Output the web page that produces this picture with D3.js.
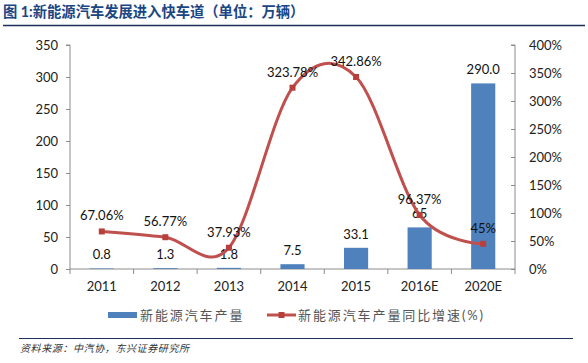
<!DOCTYPE html>
<html>
<head>
<meta charset="utf-8">
<script src="https://cdn.jsdelivr.net/npm/d3@7"></script>
<style>
  body { margin: 0; background: #fff; }
  svg text { font-family: Lato, "Noto Sans CJK SC", sans-serif; }
</style>
</head>
<body>
<div id="chart-area"></div>
<script>
// data
const years = ["2011", "2012", "2013", "2014", "2015", "2016E", "2020E"];
const output = [0.8, 1.3, 1.8, 7.5, 33.1, 65, 290.0];
const outputLabels = ["0.8", "1.3", "1.8", "7.5", "33.1", "65", "290.0"];
const growth = [67.06, 56.77, 37.93, 323.78, 342.86, 96.37, 45];
const growthLabels = ["67.06%", "56.77%", "37.93%", "323.78%", "342.86%", "96.37%", "45%"];
const leftTicks = [0, 50, 100, 150, 200, 250, 300, 350];
const rightTicks = [0, 50, 100, 150, 200, 250, 300, 350, 400];

const W = 588, H = 363;
const MARGIN = { LEFT: 70, RIGHT: 73, TOP: 45, BOTTOM: 94 };
const WIDTH = W - MARGIN.LEFT - MARGIN.RIGHT;
const HEIGHT = H - MARGIN.TOP - MARGIN.BOTTOM;

const svg = d3.select("#chart-area").append("svg")
  .attr("width", W)
  .attr("height", H);

// title + rules
svg.append("text")
  .attr("x", 3).attr("y", 17)
  .attr("font-family", "'Noto Sans CJK SC'")
  .attr("font-size", "14.3px")
  .attr("font-weight", "700")
  .attr("fill", "#1A4684")
  .text("图 1:新能源汽车发展进入快车道（单位：万辆）");
svg.append("line")
  .attr("x1", 3).attr("x2", 585).attr("y1", 25.5).attr("y2", 25.5)
  .attr("stroke", "#1b2f5a").attr("stroke-width", 1.5);
svg.append("line")
  .attr("x1", 19).attr("x2", 573).attr("y1", 338.5).attr("y2", 338.5)
  .attr("stroke", "#1b2f5a").attr("stroke-width", 1.2);
svg.append("text")
  .attr("x", 20).attr("y", 352)
  .attr("font-family", "'Noto Sans CJK SC'")
  .attr("font-size", "10px")
  .attr("font-style", "italic")
  .attr("letter-spacing", "0.6px")
  .attr("fill", "#333")
  .text("资料来源：中汽协，东兴证券研究所");

const g = svg.append("g")
  .attr("transform", `translate(${MARGIN.LEFT}, ${MARGIN.TOP})`);

// scales
const x = d3.scaleBand()
  .domain(years)
  .range([0, WIDTH])
  .paddingInner(0.62)
  .paddingOuter(0.31);
const xc = d => x(d) + x.bandwidth() / 2;
const y = d3.scaleLinear().domain([0, 350]).range([HEIGHT, 0]);
const y2 = d3.scaleLinear().domain([0, 400]).range([HEIGHT, 0]);

const axisColor = "#8c8c8c";

// left axis
const yAxis = g.append("g")
  .call(d3.axisLeft(y).tickValues(leftTicks).tickSize(4).tickPadding(8));
// right axis
const y2Axis = g.append("g")
  .attr("transform", `translate(${WIDTH}, 0)`)
  .call(d3.axisRight(y2).tickValues(rightTicks).tickSize(4).tickPadding(10)
    .tickFormat(d => d + "%"));
y2Axis.selectAll(".tick line").attr("x1", -4).attr("x2", 0);

// bottom axis: ticks at band boundaries
const step = x.step();
const xAxis = g.append("g")
  .attr("transform", `translate(0, ${HEIGHT})`)
  .call(d3.axisBottom(x).tickSize(0).tickPadding(13));
xAxis.selectAll(".domain").remove();
xAxis.append("line")
  .attr("x1", 0).attr("x2", WIDTH).attr("stroke", axisColor);
xAxis.selectAll(".tick").append("line")
  .attr("x1", -step / 2).attr("x2", -step / 2)
  .attr("y1", 0).attr("y2", 5)
  .attr("stroke", axisColor);
xAxis.append("line")
  .attr("x1", WIDTH).attr("x2", WIDTH).attr("y1", 0).attr("y2", 5)
  .attr("stroke", axisColor);

[yAxis, y2Axis, xAxis].forEach(a => {
  a.selectAll("path.domain").attr("stroke", axisColor);
  a.selectAll(".tick line").attr("stroke", axisColor);
  a.selectAll("text")
    .attr("font-family", "Lato")
    .attr("font-size", "13px")
    .attr("fill", "#222");
});
yAxis.selectAll(".domain").attr("d", `M-4,0H0V${HEIGHT}`);
y2Axis.selectAll(".domain").attr("d", `M-4,0H0V${HEIGHT}`);

// bars
g.selectAll("rect.bar").data(output).enter().append("rect")
  .attr("class", "bar")
  .attr("x", (d, i) => x(years[i]))
  .attr("y", d => y(d))
  .attr("width", x.bandwidth())
  .attr("height", d => HEIGHT - y(d))
  .attr("fill", "#4F81BD");

g.selectAll("text.barlab").data(output).enter().append("text")
  .attr("class", "barlab")
  .attr("x", (d, i) => xc(years[i]))
  .attr("y", d => y(d) - 9)
  .attr("text-anchor", "middle")
  .attr("font-size", "13px")
  .attr("fill", "#111")
  .text((d, i) => outputLabels[i]);

// growth line
const line = d3.line()
  .x((d, i) => xc(years[i]))
  .y(d => y2(d))
  .curve(d3.curveCardinal.tension(0));
g.append("path")
  .datum(growth)
  .attr("d", line)
  .attr("fill", "none")
  .attr("stroke", "#C0504D")
  .attr("stroke-width", 3);

g.selectAll("rect.mk").data(growth).enter().append("rect")
  .attr("class", "mk")
  .attr("x", (d, i) => xc(years[i]) - 3)
  .attr("y", d => y2(d) - 3)
  .attr("width", 6).attr("height", 6)
  .attr("fill", "#B8403C");

g.selectAll("text.linelab").data(growth).enter().append("text")
  .attr("class", "linelab")
  .attr("x", (d, i) => xc(years[i]))
  .attr("y", d => y2(d) - 11)
  .attr("text-anchor", "middle")
  .attr("font-size", "13px")
  .attr("fill", "#111")
  .text((d, i) => growthLabels[i]);

// legend
const lg = svg.append("g").attr("transform", "translate(0, 315)");
lg.append("rect")
  .attr("x", 108).attr("y", -3).attr("width", 29).attr("height", 6)
  .attr("fill", "#4F81BD");
lg.append("text")
  .attr("x", 140).attr("y", 5)
  .attr("font-family", "'Noto Sans CJK SC'")
  .attr("font-size", "13px")
  .attr("letter-spacing", "1.9px")
  .attr("fill", "#555")
  .text("新能源汽车产量");
lg.append("line")
  .attr("x1", 267).attr("x2", 296).attr("y1", 0).attr("y2", 0)
  .attr("stroke", "#C0504D").attr("stroke-width", 3);
lg.append("rect")
  .attr("x", 278.5).attr("y", -3).attr("width", 6).attr("height", 6)
  .attr("fill", "#B8403C");
lg.append("text")
  .attr("x", 298).attr("y", 5)
  .attr("font-family", "'Noto Sans CJK SC'")
  .attr("font-size", "13px")
  .attr("letter-spacing", "1.9px")
  .attr("fill", "#555")
  .text("新能源汽车产量同比增速(%)");
</script>
</body>
</html>
